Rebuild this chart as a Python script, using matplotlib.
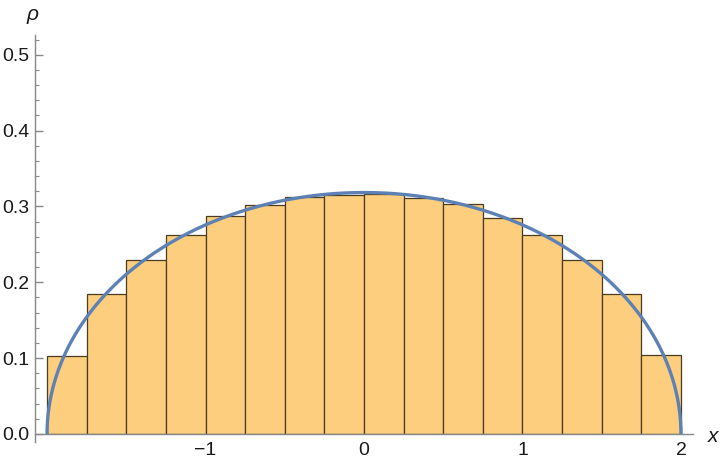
import numpy as np
import matplotlib
matplotlib.use("Agg")
import matplotlib.pyplot as plt
from matplotlib.ticker import MultipleLocator, FixedLocator

# Data
bin_edges = [-2.0, -1.75, -1.5, -1.25, -1.0, -0.75, -0.5, -0.25, 0.0,
             0.25, 0.5, 0.75, 1.0, 1.25, 1.5, 1.75, 2.0]
bar_heights = [0.103, 0.184, 0.230, 0.263, 0.287, 0.302, 0.312, 0.315,
               0.317, 0.311, 0.303, 0.285, 0.263, 0.230, 0.184, 0.104]
radius = 2.0  # semicircle law support [-R, R]
x_ticks = [-1, 0, 1, 2]
x_tick_labels = ["\u22121", "0", "1", "2"]
y_ticks = [0.0, 0.1, 0.2, 0.3, 0.4, 0.5]
y_tick_labels = ["0.0", "0.1", "0.2", "0.3", "0.4", "0.5"]

plt.rcParams['font.family'] = ['Liberation Sans', 'DejaVu Sans']

fig = plt.figure(figsize=(7.2, 4.63), dpi=100)
ax = fig.add_axes([35/720, 1-434/463, (693-35)/720, (434-35)/463])

edges = np.array(bin_edges)
widths = np.diff(edges)
ax.bar(edges[:-1], bar_heights, width=widths, align='edge',
       color='#FCCE7D', edgecolor='#4a3c22', linewidth=0.9, zorder=2)

theta = np.linspace(0, np.pi, 600)
xs = radius*np.cos(theta)
ys = np.sqrt(np.clip(radius**2 - xs**2, 0, None))/(2*np.pi)
ax.plot(xs, ys, color='#5E81B5', linewidth=2.4, zorder=3, solid_capstyle='butt')

ax.set_xlim(-2.076, 2.076)
ax.set_ylim(0, 0.526)

for s in ['top', 'right']:
    ax.spines[s].set_visible(False)
for s in ['left', 'bottom']:
    ax.spines[s].set_color('#888888')
    ax.spines[s].set_linewidth(1.0)
ax.spines['left'].set_bounds(-0.0105, 0.526)

ax.xaxis.set_major_locator(FixedLocator(x_ticks))
ax.set_xticklabels(x_tick_labels)
ax.xaxis.set_minor_locator(FixedLocator([-1.8, -1.6, -1.4, -1.2, -0.8, -0.6, -0.4, -0.2,
                                         0.2, 0.4, 0.6, 0.8, 1.2, 1.4, 1.6, 1.8]))
ax.yaxis.set_major_locator(FixedLocator(y_ticks))
ax.set_yticklabels(y_tick_labels)
ax.yaxis.set_minor_locator(MultipleLocator(0.02))

ax.tick_params(which='both', direction='in', color='#888888', labelsize=14,
               labelcolor='#1a1a1a')
ax.tick_params(which='major', length=6, width=1.0)
ax.tick_params(which='minor', length=3.2, width=0.8)
ax.tick_params(axis='x', pad=6)
ax.tick_params(axis='y', pad=4)

fig.text(713/720, 1-437/463, 'x', fontsize=15, style='italic', color='#1a1a1a',
         ha='center', va='center')
fig.text(33/720, 1-15/463, '\u03c1', fontsize=15, style='italic', color='#1a1a1a',
         ha='center', va='center')

fig.savefig('out.png', dpi=100)
